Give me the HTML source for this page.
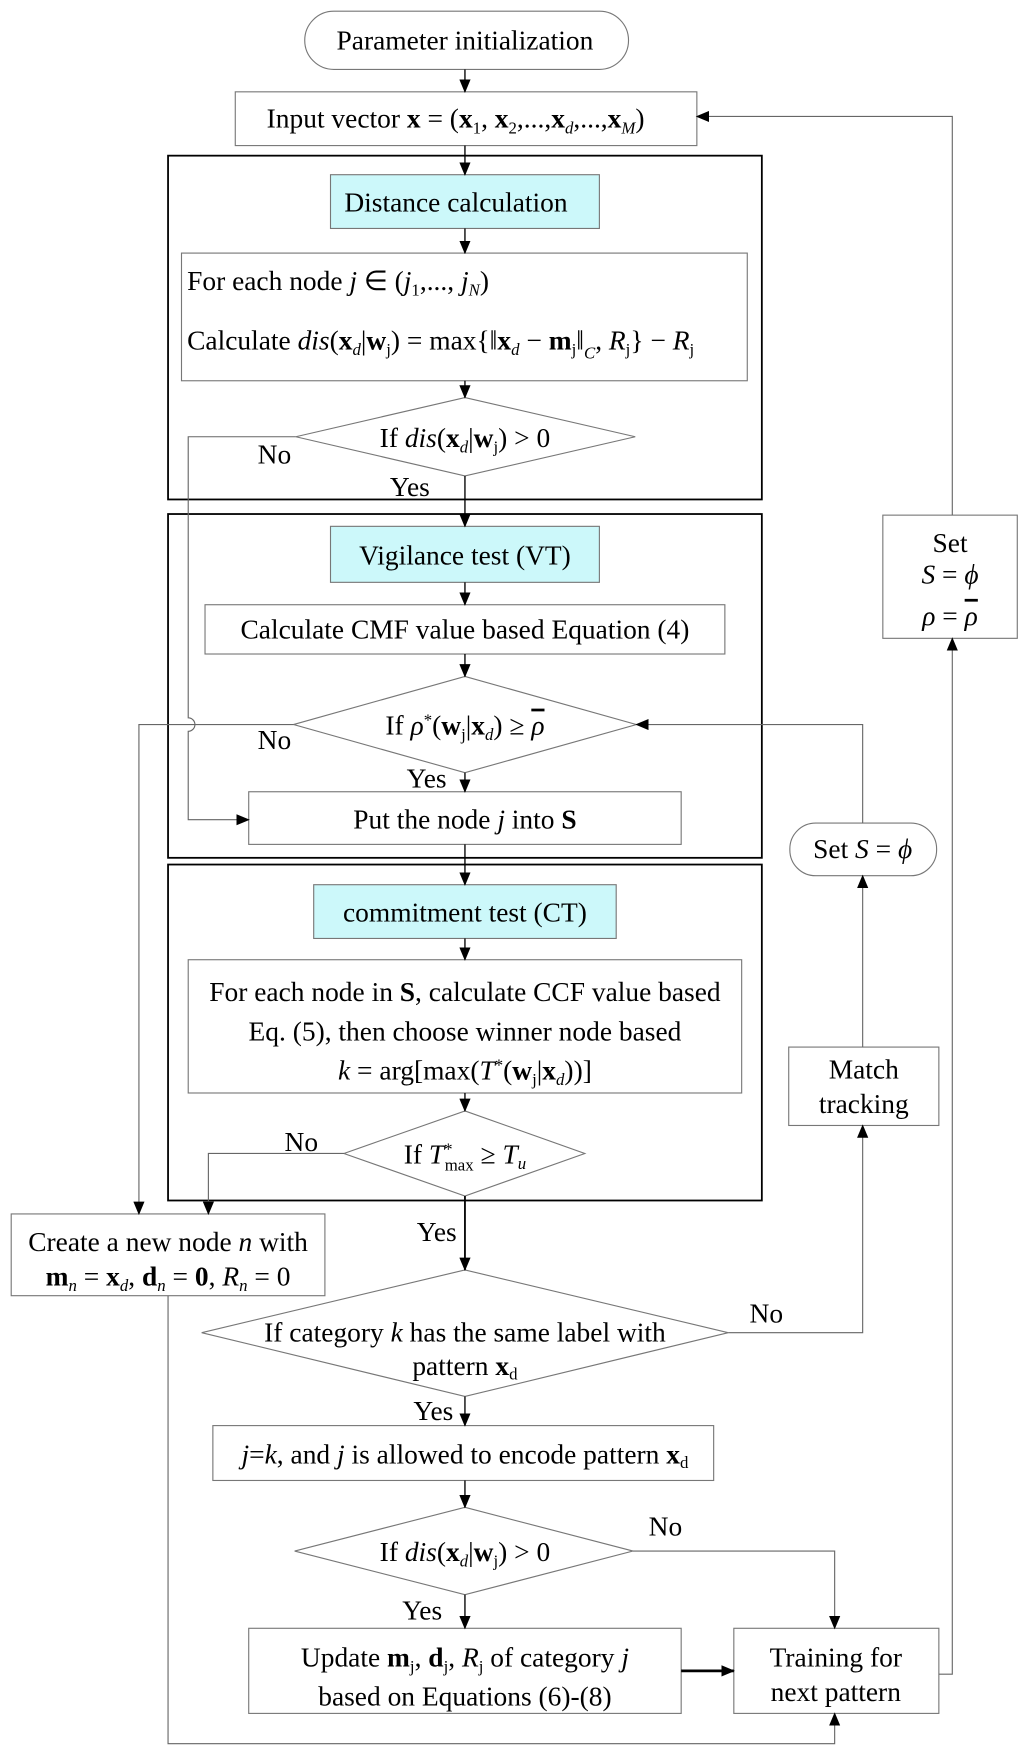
<!DOCTYPE html>
<html><head><meta charset="utf-8"><style>
html,body{margin:0;padding:0;background:#fff;}
svg{display:block;}
text{font-family:"Liberation Serif",serif;font-size:24.5px;fill:#000;}
.s{font-size:15px;}
</style></head><body>
<svg width="1024" height="1747" viewBox="0 0 914 1560" preserveAspectRatio="none" xmlns="http://www.w3.org/2000/svg">
<defs>
<marker id="a" markerWidth="12" markerHeight="10" refX="11" refY="5" orient="auto" markerUnits="userSpaceOnUse"><path d="M0,0 L12,5 L0,10 z" fill="#000"/></marker>
</defs>
<g fill="none" stroke="#000" stroke-width="1.6">
<rect x="150" y="139" width="530" height="307"/>
<rect x="150" y="459" width="530" height="307"/>
<rect x="150" y="772" width="530" height="300"/>
</g>
<g fill="#fff" stroke="#777" stroke-width="1">
<rect x="272" y="10" width="289" height="52" rx="26"/>
<rect x="210" y="82" width="412" height="48"/>
<rect x="295" y="156" width="240" height="48" fill="#ccf8fa"/>
<rect x="162" y="226" width="505" height="114"/>
<polygon points="415,355 567,390 415,425 264,390"/>
<rect x="295" y="470" width="240" height="50" fill="#ccf8fa"/>
<rect x="183" y="540" width="464" height="44"/>
<polygon points="415,604 568,647 415,690 262,647"/>
<rect x="222" y="707" width="386" height="47"/>
<rect x="280" y="790" width="270" height="48" fill="#ccf8fa"/>
<rect x="168" y="857" width="494" height="119"/>
<polygon points="415,992 522,1030 415,1068 307,1030"/>
<rect x="10" y="1084" width="280" height="73"/>
<polygon points="415,1134 650,1190 415,1247 180,1190"/>
<rect x="190" y="1273" width="447" height="49"/>
<polygon points="415,1346 565,1385 415,1424 263,1385"/>
<rect x="222" y="1454" width="386" height="76"/>
<rect x="655" y="1454" width="183" height="76"/>
<rect x="788" y="460" width="120" height="110"/>
<rect x="705" y="735" width="131" height="47" rx="23"/>
<rect x="704" y="935" width="134" height="70"/>
</g>
<g fill="none" stroke="#000" stroke-width="1.2" marker-end="url(#a)">
<line x1="415" y1="62" x2="415" y2="82"/>
<line x1="415" y1="130" x2="415" y2="156"/>
<line x1="415" y1="204" x2="415" y2="226"/>
<line x1="415" y1="340" x2="415" y2="355"/>
<line x1="415" y1="425" x2="415" y2="470"/>
<line x1="415" y1="520" x2="415" y2="540"/>
<line x1="415" y1="584" x2="415" y2="604"/>
<line x1="415" y1="690" x2="415" y2="707"/>
<line x1="415" y1="754" x2="415" y2="790"/>
<line x1="415" y1="838" x2="415" y2="857"/>
<line x1="415" y1="976" x2="415" y2="992"/>
<line x1="415" y1="1068" x2="415" y2="1134" stroke-width="1.6"/>
<line x1="415" y1="1247" x2="415" y2="1273"/>
<line x1="415" y1="1322" x2="415" y2="1346"/>
<line x1="415" y1="1424" x2="415" y2="1454"/>
<line x1="608" y1="1492" x2="655" y2="1492" stroke-width="2.4"/>
</g>
<g fill="none" stroke="#666" stroke-width="1" marker-end="url(#a)">
<path d="M264,390 H168 V641 A6,6 0 0 1 168,653 V732 H222"/>
<path d="M262,647 H124 V1084"/>
<path d="M307,1030 H186 V1084"/>
<path d="M650,1190 H770 V1005"/>
<path d="M770,935 V782"/>
<path d="M770,735 V647 H568"/>
<path d="M565,1385 H745 V1454"/>
<path d="M838,1495 H850 V570"/>
<path d="M850,460 V104 H622"/>
<path d="M150,1157 V1557 H745 V1530"/>
</g>
<text x="415" y="44" text-anchor="middle">Parameter initialization</text>
<text x="238" y="114">Input vector <tspan font-weight="bold">x</tspan> = (<tspan font-weight="bold">x</tspan><tspan class="s" dy="5">1</tspan><tspan dy="-5">, </tspan><tspan font-weight="bold">x</tspan><tspan class="s" dy="5">2</tspan><tspan dy="-5">,...,</tspan><tspan font-weight="bold">x</tspan><tspan class="s" dy="5" font-style="italic">d</tspan><tspan dy="-5">,...,</tspan><tspan font-weight="bold">x</tspan><tspan class="s" dy="5" font-style="italic">M</tspan><tspan dy="-5">)</tspan></text>
<text x="407" y="189" text-anchor="middle">Distance calculation</text>
<text x="167" y="259">For each node  <tspan font-style="italic">j</tspan> ∈ (<tspan font-style="italic">j</tspan><tspan class="s" dy="5">1</tspan><tspan dy="-5">,..., </tspan><tspan font-style="italic">j</tspan><tspan class="s" dy="5" font-style="italic">N</tspan><tspan dy="-5">)</tspan></text>
<text x="167" y="312">Calculate <tspan font-style="italic">dis</tspan>(<tspan font-weight="bold">x</tspan><tspan class="s" dy="5" font-style="italic">d</tspan><tspan dy="-5">|</tspan><tspan font-weight="bold">w</tspan><tspan class="s" dy="5">j</tspan><tspan dy="-5">) = max{‖</tspan><tspan font-weight="bold">x</tspan><tspan class="s" dy="5" font-style="italic">d</tspan><tspan dy="-5"> − </tspan><tspan font-weight="bold">m</tspan><tspan class="s" dy="5">j</tspan><tspan dy="-5">‖</tspan><tspan class="s" dy="8" font-style="italic">C</tspan><tspan dy="-8">, </tspan><tspan font-style="italic">R</tspan><tspan class="s" dy="5">j</tspan><tspan dy="-5">} − </tspan><tspan font-style="italic">R</tspan><tspan class="s" dy="5">j</tspan></text>
<text x="415" y="399" text-anchor="middle">If <tspan font-style="italic">dis</tspan>(<tspan font-weight="bold">x</tspan><tspan class="s" dy="5" font-style="italic">d</tspan><tspan dy="-5">|</tspan><tspan font-weight="bold">w</tspan><tspan class="s" dy="5">j</tspan><tspan dy="-5">) &gt; 0</tspan></text>
<text x="230" y="414">No</text>
<text x="348" y="443">Yes</text>
<text x="415" y="504" text-anchor="middle">Vigilance test (VT)</text>
<text x="415" y="570" text-anchor="middle">Calculate  CMF value based Equation (4)</text>
<text x="415" y="656" text-anchor="middle">If <tspan font-style="italic">ρ</tspan><tspan class="s" dy="-8">*</tspan><tspan dy="8">(</tspan><tspan font-weight="bold">w</tspan><tspan class="s" dy="5">j</tspan><tspan dy="-5">|</tspan><tspan font-weight="bold">x</tspan><tspan class="s" dy="5" font-style="italic">d</tspan><tspan dy="-5">) ≥ </tspan><tspan font-style="italic" text-decoration="overline">ρ</tspan></text>
<text x="230" y="669">No</text>
<text x="363" y="703">Yes</text>
<text x="415" y="740" text-anchor="middle">Put the node <tspan font-style="italic">j</tspan> into <tspan font-weight="bold">S</tspan></text>
<text x="415" y="823" text-anchor="middle">commitment test (CT)</text>
<text x="415" y="894" text-anchor="middle">For each node in <tspan font-weight="bold">S</tspan>, calculate CCF value based</text>
<text x="415" y="929" text-anchor="middle">Eq. (5), then choose winner node based</text>
<text x="415" y="964" text-anchor="middle"><tspan font-style="italic">k</tspan> = arg[max(<tspan font-style="italic">T</tspan><tspan class="s" dy="-8">*</tspan><tspan dy="8">(</tspan><tspan font-weight="bold">w</tspan><tspan class="s" dy="5">j</tspan><tspan dy="-5">|</tspan><tspan font-weight="bold">x</tspan><tspan class="s" dy="5" font-style="italic">d</tspan><tspan dy="-5">))]</tspan></text>
<text x="415" y="1039" text-anchor="middle">If <tspan font-style="italic">T</tspan><tspan class="s" dy="-8">*</tspan><tspan class="s" dx="-7" dy="14">max</tspan><tspan dy="-6"> ≥ </tspan><tspan font-style="italic">T</tspan><tspan class="s" dy="5" font-style="italic">u</tspan></text>
<text x="254" y="1028">No</text>
<text x="150" y="1117" text-anchor="middle">Create a new node <tspan font-style="italic">n</tspan> with</text>
<text x="150" y="1148" text-anchor="middle"><tspan font-weight="bold">m</tspan><tspan class="s" dy="5" font-style="italic">n</tspan><tspan dy="-5"> = </tspan><tspan font-weight="bold">x</tspan><tspan class="s" dy="5" font-style="italic">d</tspan><tspan dy="-5">, </tspan><tspan font-weight="bold">d</tspan><tspan class="s" dy="5" font-style="italic">n</tspan><tspan dy="-5"> = </tspan><tspan font-weight="bold">0</tspan>, <tspan font-style="italic">R</tspan><tspan class="s" dy="5" font-style="italic">n</tspan><tspan dy="-5"> = 0</tspan></text>
<text x="372" y="1108">Yes</text>
<text x="415" y="1198" text-anchor="middle">If category <tspan font-style="italic">k</tspan> has the same label with</text>
<text x="415" y="1228" text-anchor="middle">pattern <tspan font-weight="bold">x</tspan><tspan class="s" dy="4">d</tspan></text>
<text x="669" y="1181">No</text>
<text x="369" y="1268">Yes</text>
<text x="415" y="1307" text-anchor="middle"><tspan font-style="italic">j</tspan>=<tspan font-style="italic">k</tspan>, and <tspan font-style="italic">j</tspan> is allowed to encode pattern <tspan font-weight="bold">x</tspan><tspan class="s" dy="4">d</tspan></text>
<text x="415" y="1394" text-anchor="middle">If  <tspan font-style="italic">dis</tspan>(<tspan font-weight="bold">x</tspan><tspan class="s" dy="5" font-style="italic">d</tspan><tspan dy="-5">|</tspan><tspan font-weight="bold">w</tspan><tspan class="s" dy="5">j</tspan><tspan dy="-5">) &gt; 0</tspan></text>
<text x="579" y="1371">No</text>
<text x="359" y="1446">Yes</text>
<text x="415" y="1488" text-anchor="middle">Update  <tspan font-weight="bold">m</tspan><tspan class="s" dy="5">j</tspan><tspan dy="-5">, </tspan><tspan font-weight="bold">d</tspan><tspan class="s" dy="5">j</tspan><tspan dy="-5">, </tspan><tspan font-style="italic">R</tspan><tspan class="s" dy="5">j</tspan><tspan dy="-5">  of category </tspan><tspan font-style="italic">j</tspan></text>
<text x="415" y="1523" text-anchor="middle">based on Equations (6)-(8)</text>
<text x="746" y="1488" text-anchor="middle">Training for</text>
<text x="746" y="1519" text-anchor="middle">next pattern</text>
<text x="848" y="493" text-anchor="middle">Set</text>
<text x="848" y="521" text-anchor="middle"><tspan font-style="italic">S</tspan> = <tspan font-style="italic">ϕ</tspan></text>
<text x="848" y="558" text-anchor="middle"><tspan font-style="italic">ρ</tspan> = <tspan font-style="italic" text-decoration="overline">ρ</tspan></text>
<text x="770" y="766" text-anchor="middle">Set <tspan font-style="italic">S</tspan> = <tspan font-style="italic">ϕ</tspan></text>
<text x="771" y="963" text-anchor="middle">Match</text>
<text x="771" y="994" text-anchor="middle">tracking</text>
</svg>
</body></html>
